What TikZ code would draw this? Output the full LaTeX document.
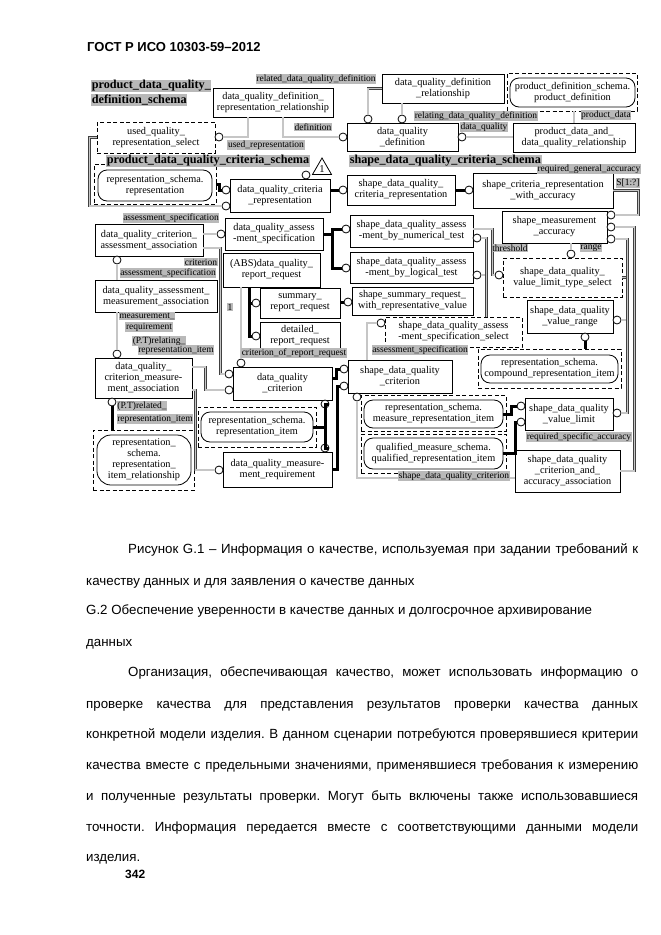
\documentclass[tikz,border=0pt]{standalone}
\usepackage{fontspec}
\setmainfont{Liberation Serif}
\newfontfamily\bodyfont{Liberation Sans}
\usetikzlibrary{shapes.geometric}
\frenchspacing
\tikzset{
  ebox/.style={draw, line width=0.9pt, fill=white, inner sep=0pt, align=center,
    font=\fontsize{10.3}{11}\selectfont},
  sel/.style={ebox, dash pattern=on 4pt off 2.5pt},
  frame/.style={draw, line width=0.9pt, dash pattern=on 4pt off 2.5pt, fill=white, inner sep=0pt},
  rbox/.style={ebox, line width=0.8pt, rounded corners=9pt},
  ring/.style={circle, draw, line width=0.8pt, fill=white, inner sep=0pt, minimum size=8pt},
  conn/.style={draw=black!75, line width=0.6pt, double=gray!45, double distance=1.4pt},
  thk/.style={line width=3pt, black},
  lbl/.style={fill=gray!55, inner sep=0.6pt, font=\fontsize{9.5}{10}\selectfont},
  schema/.style={fill=gray!55, inner sep=0.6pt, anchor=west, font=\fontsize{12.2}{13}\selectfont\bfseries},
  tri/.style={draw, line width=0.8pt, fill=white, regular polygon, regular polygon sides=3,
    minimum size=22pt, inner sep=0pt, font=\fontsize{10.5}{10.5}\selectfont},
  body/.style={anchor=base west, inner sep=0pt, font=\bodyfont\fontsize{13.3}{15}\selectfont},
}
\newcommand\BX[7]{\node[#1, minimum width={(#5)-(#3)}, minimum height={(#6)-(#4)}] (#2) at ({((#3)+(#5))/2},{((#4)+(#6))/2}) {#7};}
\begin{document}
\begin{tikzpicture}[x=1pt,y=-1pt]
\useasboundingbox[fill=white] (0,0) rectangle (661,935);

% header
\node[anchor=base west, inner sep=0pt, font=\bodyfont\fontsize{13}{15}\selectfont\bfseries] (hdr) at (87,51) {ГОСТ Р ИСО 10303-59–2012};

% frames with external entities
\BX{frame}{pdsF}{507}{73}{637}{111}{}
\BX{rbox}{pds}{510}{78}{635}{107}{product\_definition\_schema.\\product\_definition}
\BX{frame}{rsrF}{94}{164}{216}{204}{}
\BX{rbox}{rsr}{98}{170}{212}{201}{representation\_schema.\\representation}
\BX{frame}{criF}{478}{349}{621}{388}{}
\BX{rbox}{cri}{481}{355}{618}{383}{representation\_schema.\\compound\_representation\_item}
\BX{frame}{mriF}{361}{395}{506}{431}{}
\BX{rbox}{mri}{364}{400}{503}{428}{representation\_schema.\\measure\_representation\_item}
\BX{frame}{qriF}{361}{434}{506}{473}{}
\BX{rbox}{qri}{364}{438}{503}{469}{qualified\_measure\_schema.\\qualified\_representation\_item}
\BX{frame}{riF}{198}{407}{316}{447}{}
\BX{rbox}{ri}{201}{412}{313}{442}{representation\_schema.\\representation\_item}
\BX{frame}{rirF}{93}{430}{194}{490}{}
\node[ebox, line width=0.8pt, rounded corners=14pt, minimum width=94, minimum height=50] (rir) at (144,460) {representation\_\\schema.\\representation\_\\item\_relationship};

% selects
\BX{sel}{uqrs}{97}{122}{215}{153}{used\_quality\_\\representation\_select}
\BX{sel}{sass}{385}{317}{522}{347}{shape\_data\_quality\_assess\\-ment\_specification\_select}
\BX{sel}{vlts}{503}{258}{622}{297}{shape\_data\_quality\_\\value\_limit\_type\_select}

% entities
\BX{ebox}{dqdrr}{213}{88}{333}{117}{data\_quality\_definition\_\\representation\_relationship}
\BX{ebox}{dqdr}{382}{74}{504}{103}{data\_quality\_definition\\\_relationship}
\BX{ebox}{dqd}{347}{123}{458}{151}{data\_quality\\\_definition}
\BX{ebox}{pdadqr}{513}{123}{635}{152}{product\_data\_and\_\\data\_quality\_relationship}
\BX{ebox}{dqcr}{230}{179}{330}{212}{data\_quality\_criteria\\\_representation}
\BX{ebox}{sdqcr}{347}{175}{455}{205}{shape\_data\_quality\_\\criteria\_representation}
\BX{ebox}{scrwa}{473}{173}{613}{208}{shape\_criteria\_representation\\\_with\_accuracy}
\BX{ebox}{dqcaa}{95}{224}{203}{256}{data\_quality\_criterion\_\\assessment\_association}
\BX{ebox}{dqas}{225}{218}{323}{250}{data\_quality\_assess\\-ment\_specification}
\BX{ebox}{dqrr}{223}{253}{320}{287}{(ABS)data\_quality\_\\report\_request}
\BX{ebox}{num}{350}{215}{473}{247}{shape\_data\_quality\_assess\\-ment\_by\_numerical\_test}
\BX{ebox}{log}{350}{252}{473}{283}{shape\_data\_quality\_assess\\-ment\_by\_logical\_test}
\BX{ebox}{sma}{502}{211}{607}{243}{shape\_measurement\\\_accuracy}
\BX{ebox}{dqamra}{95}{280}{217}{312}{data\_quality\_assessment\_\\measurement\_association}
\BX{ebox}{srr}{260}{288}{340}{318}{summary\_\\report\_request}
\BX{ebox}{drr}{260}{322}{340}{350}{detailed\_\\report\_request}
\BX{ebox}{ssr}{352}{287}{473}{315}{shape\_summary\_request\_\\with\_representative\_value}
\BX{ebox}{vrange}{527}{300}{613}{333}{shape\_data\_quality\\\_value\_range}
\BX{ebox}{dqcma}{95}{358}{192}{398}{data\_quality\_\\criterion\_measure-\\ment\_association}
\BX{ebox}{dqc}{233}{367}{332}{400}{data\_quality\\\_criterion}
\BX{ebox}{sdqc}{348}{360}{452}{393}{shape\_data\_quality\\\_criterion}
\BX{ebox}{vlimit}{525}{398}{613}{430}{shape\_data\_quality\\\_value\_limit}
\BX{ebox}{dqmr}{223}{452}{332}{487}{data\_quality\_measure-\\ment\_requirement}
\BX{ebox}{assoc}{515}{450}{620}{492}{shape\_data\_quality\\\_criterion\_and\_\\accuracy\_association}

% circles
\node[ring] (cA) at (368,119) {};
\node[ring] (cB) at (402,119) {};
\node[ring] (cC) at (343,137) {};
\node[ring] (cD) at (219,137) {};
\node[ring] (cE) at (226,190) {};
\node[ring] (cF) at (226,206) {};
\node[ring] (cG) at (306,175) {};
\node[ring] (cH) at (343,190) {};
\node[ring] (cI) at (469,190) {};
\node[ring] (cJ) at (462,137) {};
\node[ring] (cK) at (221,234) {};
\node[ring] (cL) at (117,260) {};
\node[ring] (cM) at (229,374) {};
\node[ring] (cN) at (229,390) {};
\node[ring] (cO) at (117,354) {};
\node[ring] (cP) at (112,402) {};
\node[ring] (cQ) at (241,363) {};
\node[ring] (cR) at (256,303) {};
\node[ring] (cS) at (256,336) {};
\node[ring] (cT) at (346,229) {};
\node[ring] (cU) at (346,268) {};
\node[ring] (cV) at (348,302) {};
\node[ring] (cW) at (381,323) {};
\node[ring] (cX) at (477,238) {};
\node[ring] (cY) at (477,275) {};
\node[ring] (cZ) at (499,275) {};
\node[ring] (c1) at (571,254) {};
\node[ring] (c2) at (617,320) {};
\node[ring] (c3) at (617,413) {};
\node[ring] (c4) at (611,215) {};
\node[ring] (c5) at (611,227) {};
\node[ring] (c6) at (611,239) {};
\node[ring] (c7) at (585,337) {};
\node[ring] (c8) at (521,406) {};
\node[ring] (c9) at (521,422) {};
\node[ring] (c10) at (325,404) {};
\node[ring] (c11) at (325,448) {};
\node[ring] (c12) at (344,369) {};
\node[ring] (c13) at (344,386) {};
\node[ring] (c14) at (219,470) {};
\node[ring] (c15) at (357,397) {};
\node[tri] (tri) at (322,169) {1};

% connectors
\draw[conn] (dqdr.west) -| (cA);
\draw[conn] (dqdr.south -| cB) -- (cB);
\draw[conn] ([xshift=10pt]dqdrr.south) |- (cC);
\draw[conn] ([xshift=-25pt]dqdrr.south) |- (cD);
\draw[conn] (uqrs.west) -- ++(-7,0) |- (cF);
\draw[thk] (rsrF.east) -- ++(3,0) |- (cE);
\draw[thk] (dqcr.east |- cH) -- (cH);
\draw[thk] (sdqcr.east |- cI) -- (cI);
\draw[conn] (pdadqr.west |- cJ) -- (cJ);
\draw[conn] (pdadqr.north) -- (pdadqr.north |- pdsF.south);
\draw[conn] (dqcaa.east |- cK) -- (cK);
\draw[conn] (dqamra.north -| cL) -- (cL);
\draw[conn] ([yshift=-8pt]dqcaa.east) -- ++(17,0) |- (cM);
\draw[conn] ([yshift=11pt]dqcma.east) -- ++(13,0) |- (cN);
\draw[conn] (dqamra.south -| cO) -- (cO);
\draw[thk] (rirF.north -| cP) -- (cP);
\draw[conn] (dqrr.south -| cQ) -- (cQ);
\draw[thk] ([xshift=-22pt]dqrr.south) |- (cR);
\draw[thk] ([xshift=-22pt]dqrr.south) |- (cS);
\draw[thk] (dqas.east) -- ++(9,0) |- (cT);
\draw[thk] (dqas.east) -- ++(9,0) |- (cU);
\draw[thk] (srr.east |- cV) -- (cV);
\draw[conn] ([xshift=-33pt]sdqc.north) |- (cW);
\draw[conn] ([xshift=33pt]sass.north) |- (cY);
\draw[conn] ([xshift=33pt]sass.north) |- (cX);
\draw[conn] ([yshift=2pt]num.east) -- ++(19,0) |- (cZ);
\draw[conn] (sma.south -| c1) -- (c1);
\draw[conn] (vlts.east) -- ++(5,0) |- (c2);
\draw[conn] (vlts.east) -- ++(5,0) |- (c3);
\draw[conn] (c6) -| ([xshift=5pt]vlts.east);
\draw[conn] (scrwa.east) -- ++(25,0) |- (c4);
\draw[conn] (assoc.east) -- ++(14,0) |- (c5);
\draw[thk] (criF.north -| c7) -- (c7);
\draw[thk] (mri.east) -- ++(8,0) |- (c8);
\draw[thk] (qri.east) -- ++(12,0) |- (c9);
\draw[thk] (ri.east) -- ++(12,0) |- (c10);
\draw[thk] (ri.east) -- ++(12,0) |- (c11);
\draw[thk] ([yshift=5pt]dqc.east) -- ++(4,0) |- (c12);
\draw[thk] (dqmr.east) -- ++(5,0) |- (c13);
\draw[conn] ([yshift=-12pt]dqcma.east) -- ++(3,0) |- (c14);
\draw[conn] ([yshift=-7pt]assoc.west) -| (c15);

% schema titles
\node[schema] (s1) at (91,86) {product\_data\_quality\_};
\node[schema] (s2) at (91,100) {definition\_schema};
\node[schema] (s3) at (106,161) {product\_data\_quality\_criteria\_schema};
\node[schema] (s4) at (349,161) {shape\_data\_quality\_criteria\_schema};

% role labels
\node[lbl] (l1) at (316,79) {related\_data\_quality\_definition};
\node[lbl] (l2) at (476,116) {relating\_data\_quality\_definition};
\node[lbl] (l3) at (313,127) {definition};
\node[lbl] (l4) at (266,145) {used\_representation};
\node[lbl] (l5) at (484,127) {data\_quality};
\node[lbl] (l6) at (606,115) {product\_data};
\node[lbl] (l7) at (589,169) {required\_general\_accuracy};
\node[lbl] (l8) at (628,183) {S[1:?]};
\node[lbl] (l9) at (171,218) {assessment\_specification};
\node[lbl] (l10) at (201,262) {criterion};
\node[lbl] (l11) at (168,273) {assessment\_specification};
\node[lbl] (l12) at (147,316) {measurement\_};
\node[lbl] (l13) at (149,327) {requirement};
\node[lbl] (l14) at (159,341) {(P.T)relating\_};
\node[lbl] (l15) at (176,350) {representation\_item};
\node[lbl] (l16) at (230,307) {1};
\node[lbl] (l17) at (294,353) {criterion\_of\_report\_request};
\node[lbl] (l18) at (420,350) {assessment\_specification};
\node[lbl] (l19) at (510,248) {threshold};
\node[lbl] (l20) at (591,248) {range};
\node[lbl] (l21) at (142,406) {(P.T)related\_};
\node[lbl] (l22) at (155,419) {representation\_item};
\node[lbl] (l23) at (579,437) {required\_specific\_accuracy};
\node[lbl] (l24) at (454,476) {shape\_data\_quality\_criterion};

% text below
\node[body] (t1) at (128,553.5) {\makebox[510pt][s]{Рисунок G.1 – Информация о качестве, используемая при задании требований к}};
\node[body] (t2) at (86,585.5) {качеству данных и для заявления о качестве данных};
\node[body] (t3) at (86,614.5) {G.2 Обеспечение уверенности в качестве данных и долгосрочное архивирование};
\node[body] (t4) at (86,646.5) {данных};
\node[body] (t5) at (128,676.5) {\makebox[510pt][s]{Организация, обеспечивающая качество, может использовать информацию о}};
\node[body] (t6) at (86,708.5) {\makebox[552pt][s]{проверке качества для представления результатов проверки качества данных}};
\node[body] (t7) at (86,738.5) {\makebox[552pt][s]{конкретной модели изделия. В данном сценарии потребуются проверявшиеся критерии}};
\node[body] (t8) at (86,769.5) {\makebox[552pt][s]{качества вместе с предельными значениями, применявшиеся требования к измерению}};
\node[body] (t9) at (86,800.5) {\makebox[552pt][s]{и полученные результаты проверки. Могут быть включены также использовавшиеся}};
\node[body] (t10) at (86,831.5) {\makebox[552pt][s]{точности. Информация передается вместе с соответствующими данными модели}};
\node[body] (t11) at (86,861.5) {изделия.};
\node[anchor=base west, inner sep=0pt, font=\bodyfont\fontsize{12}{14}\selectfont\bfseries] (pg) at (125,878) {342};
\end{tikzpicture}
\end{document}
